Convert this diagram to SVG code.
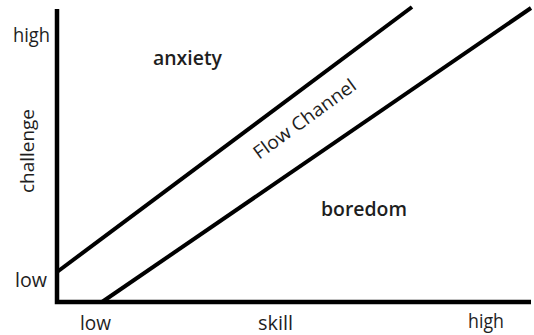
<svg xmlns="http://www.w3.org/2000/svg" width="534" height="335" viewBox="0 0 534 335">
<style>
.t{font-family:"Open Sans","Liberation Sans",sans-serif;fill:#1e1e1e;font-size:20px}
.b{font-weight:600;font-size:19px}
.ln{stroke:#000;fill:none;stroke-linecap:butt}
</style>
<rect width="534" height="335" fill="#fff"/>
<g id="connectors">
<path id="axes" class="ln" d="M57,9 V302 H531" stroke-width="4.5" stroke-linejoin="miter"/>
<line id="upper-boundary" class="ln" x1="57" y1="272" x2="412" y2="7" stroke-width="4"/>
<line id="lower-boundary" class="ln" x1="102" y1="302" x2="531" y2="8" stroke-width="4"/>
</g>
<g id="y-high"><text class="t" x="13" y="42" textLength="37" lengthAdjust="spacingAndGlyphs">high</text></g>
<g id="y-low"><text class="t" x="15" y="287" textLength="32" lengthAdjust="spacingAndGlyphs">low</text></g>
<g id="y-title"><text class="t" transform="translate(34,193) rotate(-90)" style="font-size:19px" textLength="84" lengthAdjust="spacingAndGlyphs">challenge</text></g>
<g id="x-low"><text class="t" x="80" y="330" textLength="31" lengthAdjust="spacingAndGlyphs">low</text></g>
<g id="x-title"><text class="t" x="258" y="330" textLength="35" lengthAdjust="spacingAndGlyphs">skill</text></g>
<g id="x-high"><text class="t" x="468" y="328" textLength="36" lengthAdjust="spacingAndGlyphs">high</text></g>
<g id="anxiety"><text class="t b" x="153" y="65" textLength="69" lengthAdjust="spacingAndGlyphs">anxiety</text></g>
<g id="boredom"><text class="t b" x="321" y="216" textLength="86" lengthAdjust="spacingAndGlyphs">boredom</text></g>
<g id="flow-channel"><text class="t" transform="translate(259,160) rotate(-36)" style="font-size:18.5px" textLength="122" lengthAdjust="spacingAndGlyphs">Flow Channel</text></g>
</svg>
